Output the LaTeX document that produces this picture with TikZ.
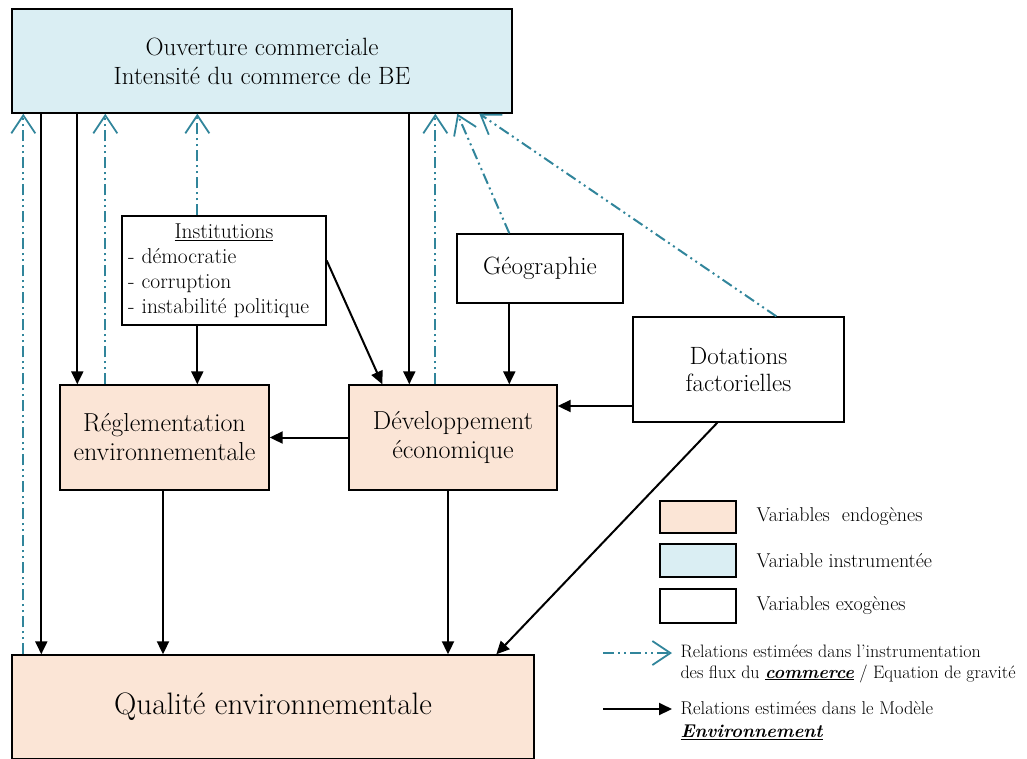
\documentclass[tikz,border=0pt]{standalone}
\usetikzlibrary{arrows.meta}
\definecolor{endofill}{RGB}{251,229,214}
\definecolor{instrfill}{RGB}{218,238,243}
\definecolor{gravline}{RGB}{49,133,155}
\tikzset{
  box/.style={draw, line width=1.4pt, align=center, inner sep=0pt},
  endo/.style={box, fill=endofill},
  instr/.style={box, fill=instrfill},
  exo/.style={box, fill=white},
  envarrow/.style={line width=2pt, -{Triangle[length=13pt,width=12pt]}},
  gravarrow/.style={gravline, line width=2pt, dash pattern=on 11pt off 4pt on 2pt off 4pt on 2pt off 4pt, -{Straight Barb[length=18pt,width=24pt,line width=1.8pt]}},
}
\newcommand{\fs}[2]{\fontsize{#1}{#2}\selectfont}

\begin{document}
\begin{tikzpicture}[x=1pt,y=-1pt]
\useasboundingbox (0,0) rectangle (1027,758);
% boxes
\node (ouv) at (262,61) [instr, minimum width=500pt, minimum height=104pt, font=\fs{25}{29}]{Ouverture commerciale\\Intensit\'e du commerce de BE};
\node (inst) at (224,270.5) [exo, minimum width=204pt, minimum height=109pt, text width=192pt, align=left, font=\fs{21.5}{25}]{\makebox[192pt][c]{\underline{Institutions}}\\- d\'emocratie\\- corruption\\- instabilit\'e politique};
\node (geo) at (540,268.5) [exo, minimum width=166pt, minimum height=69pt, font=\fs{25}{27}]{G\'eographie};
\node (dot) at (738.5,369.5) [exo, minimum width=211pt, minimum height=105pt, font=\fs{25}{27}]{Dotations\\factorielles};
\node (reg) at (164.5,437.5) [endo, minimum width=209pt, minimum height=105pt, font=\fs{26}{29}]{R\'eglementation\\environnementale};
\node (dev) at (453,437.5) [endo, minimum width=208pt, minimum height=105pt, font=\fs{26}{29}]{D\'eveloppement\\\'economique};
\node (qual) at (273,707) [endo, minimum width=522pt, minimum height=104pt, font=\fs{31}{34}]{Qualit\'e environnementale};
% legend boxes
\node (lendo) at (698,517) [endo, minimum width=76pt, minimum height=32pt]{};
\node (linstr) at (698,560.5) [instr, minimum width=76pt, minimum height=33pt]{};
\node (lexo) at (698,606) [exo, minimum width=76pt, minimum height=34pt]{};
% legend labels
\node (tendo) at (753,517) [anchor=west, font=\fs{20}{22}]{Variables~ endog\`enes};
\node (tinstr) at (753,561) [anchor=west, font=\fs{20}{22}]{Variable instrument\'ee};
\node (texo) at (753,606) [anchor=west, font=\fs{20}{22}]{Variables exog\`enes};
\node (tgrav) at (677,663.5) [anchor=west, align=left, font=\fs{18}{21}]{Relations estim\'ees dans l'instrumentation\\des flux du \underline{\textbf{\textit{commerce}}} / Equation de gravit\'e};
\node (tenv) at (677,720.5) [anchor=west, align=left, font=\fs{18.5}{23}]{Relations estim\'ees dans le Mod\`ele\\\underline{\textbf{\textit{Environnement}}}};
% legend arrows
\coordinate (gs) at (603,653);
\coordinate (ge) at (672,653);
\coordinate (es) at (603,709);
\coordinate (ee) at (672,709);
\draw[gravarrow] (gs) -- (ge);
\draw[envarrow] (es) -- (ee);
% black arrows
\draw[envarrow] ([xshift=30pt]ouv.south west) -- ([xshift=30pt]qual.north west);
\draw[envarrow] ([xshift=66pt]ouv.south west) -- ([xshift=18pt]reg.north west);
\draw[envarrow] ([xshift=76pt]inst.south west) -- ([xshift=76pt]inst.south west |- reg.north);
\draw[envarrow] ([yshift=10pt]inst.east) -- ([xshift=34pt]dev.north west);
\draw[envarrow] ([xshift=61pt]dev.north west |- ouv.south) -- ([xshift=61pt]dev.north west);
\draw[envarrow] ([xshift=53pt]geo.south west) -- ([xshift=53pt]geo.south west |- dev.north);
\draw[envarrow] ([yshift=-36.5pt]dot.west) -- ([yshift=-36.5pt]dot.west -| dev.east);
\draw[envarrow] (dev.west) -- (reg.east);
\draw[envarrow] ([xshift=-1.5pt]reg.south) -- ([xshift=-1.5pt]reg.south |- qual.north);
\draw[envarrow] ([xshift=-5pt]dev.south) -- ([xshift=-5pt]dev.south |- qual.north);
\draw[envarrow] ([xshift=85pt]dot.south west) -- ([xshift=485pt]qual.north west);
% teal arrows
\draw[gravarrow] ([xshift=12pt]qual.north west) -- ([xshift=12pt]ouv.south west);
\draw[gravarrow] ([xshift=46pt]reg.north west) -- ([xshift=46pt]reg.north west |- ouv.south);
\draw[gravarrow] ([xshift=76pt]inst.north west) -- ([xshift=76pt]inst.north west |- ouv.south);
\draw[gravarrow] ([xshift=87pt]dev.north west) -- ([xshift=87pt]dev.north west |- ouv.south);
\draw[gravarrow] ([xshift=53pt]geo.north west) -- ([xshift=446pt]ouv.south west);
\draw[gravarrow] ([xshift=144pt]dot.north west) -- ([xshift=468pt]ouv.south west);
\end{tikzpicture}
\end{document}
